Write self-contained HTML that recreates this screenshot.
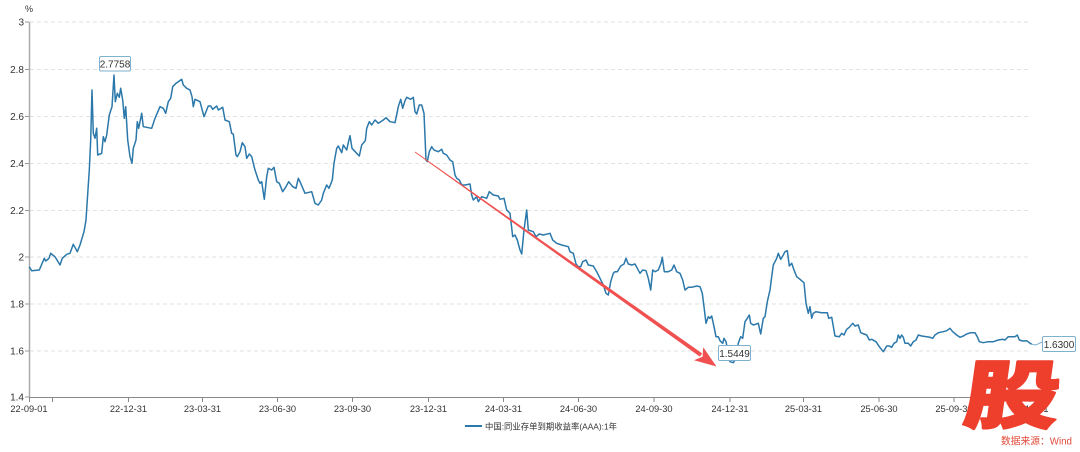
<!DOCTYPE html>
<html><head><meta charset="utf-8"><style>
html,body{margin:0;padding:0;background:#fff;}
svg{display:block;}
text{font-family:"Liberation Sans","Noto Sans CJK SC",sans-serif;}
</style></head><body>
<svg width="1080" height="452" viewBox="0 0 1080 452" xmlns="http://www.w3.org/2000/svg">
<rect width="1080" height="452" fill="#fff"/>
<!-- grid -->
<g stroke="#e2e2e2" stroke-width="1" stroke-dasharray="4 3">
<line x1="30" y1="22" x2="1031" y2="22"/>
<line x1="30" y1="69.5" x2="1031" y2="69.5"/>
<line x1="30" y1="116.5" x2="1031" y2="116.5"/>
<line x1="30" y1="163.5" x2="1031" y2="163.5"/>
<line x1="30" y1="210.5" x2="1031" y2="210.5"/>
<line x1="30" y1="257" x2="1031" y2="257"/>
<line x1="30" y1="304" x2="1031" y2="304"/>
<line x1="30" y1="351" x2="1031" y2="351"/>
</g>
<!-- y axis -->
<line x1="29.5" y1="22" x2="29.5" y2="397" stroke="#aaa" stroke-width="1.5"/>
<g stroke="#999" stroke-width="1">
<line x1="25" y1="22" x2="29" y2="22"/><line x1="25" y1="69.5" x2="29" y2="69.5"/><line x1="25" y1="116.5" x2="29" y2="116.5"/><line x1="25" y1="163.5" x2="29" y2="163.5"/><line x1="25" y1="210.5" x2="29" y2="210.5"/><line x1="25" y1="257" x2="29" y2="257"/><line x1="25" y1="304" x2="29" y2="304"/><line x1="25" y1="351" x2="29" y2="351"/><line x1="25" y1="397" x2="29" y2="397"/>
</g>
<g font-size="10" fill="#333" text-anchor="end">
<text x="24" y="25.5">3</text>
<text x="24" y="73">2.8</text>
<text x="24" y="120">2.6</text>
<text x="24" y="167">2.4</text>
<text x="24" y="214">2.2</text>
<text x="24" y="260.5">2</text>
<text x="24" y="307.5">1.8</text>
<text x="24" y="354.5">1.6</text>
<text x="24" y="400.5">1.4</text>
</g>
<text x="29" y="12" font-size="9" fill="#333" text-anchor="middle">%</text>
<!-- x axis -->
<line x1="29" y1="397.5" x2="1031" y2="397.5" stroke="#888" stroke-width="1"/>
<g stroke="#888" stroke-width="1">
<line x1="29.5" y1="397" x2="29.5" y2="402"/><line x1="52.5" y1="397" x2="52.5" y2="402"/><line x1="128.5" y1="397" x2="128.5" y2="402"/><line x1="202.5" y1="397" x2="202.5" y2="402"/><line x1="277.5" y1="397" x2="277.5" y2="402"/><line x1="352.5" y1="397" x2="352.5" y2="402"/><line x1="428.5" y1="397" x2="428.5" y2="402"/><line x1="503.5" y1="397" x2="503.5" y2="402"/><line x1="578.5" y1="397" x2="578.5" y2="402"/><line x1="654" y1="397" x2="654" y2="402"/><line x1="730" y1="397" x2="730" y2="402"/><line x1="803.5" y1="397" x2="803.5" y2="402"/><line x1="879" y1="397" x2="879" y2="402"/><line x1="954" y1="397" x2="954" y2="402"/><line x1="1030" y1="397" x2="1030" y2="402"/>
</g>
<g font-size="9.3" fill="#333" text-anchor="middle">
<text x="29" y="412">22-09-01</text>
<text x="128.5" y="412">22-12-31</text>
<text x="202.5" y="412">23-03-31</text>
<text x="277.5" y="412">23-06-30</text>
<text x="352.5" y="412">23-09-30</text>
<text x="428.5" y="412">23-12-31</text>
<text x="503.5" y="412">24-03-31</text>
<text x="578.5" y="412">24-06-30</text>
<text x="654" y="412">24-09-30</text>
<text x="730" y="412">24-12-31</text>
<text x="803.5" y="412">25-03-31</text>
<text x="879" y="412">25-06-30</text>
<text x="954" y="412">25-09-30</text>
<text x="1030" y="412">25-12-31</text>
</g>
<!-- series -->
<polyline fill="none" stroke="#2b78aa" stroke-width="1.5" stroke-linejoin="round" points="
29.3,266.7 31.7,270.7 39.3,270 40.7,266.7 44.3,258.3 45.7,261 49,258.3 50.7,253.3 52.7,255 55,256.7 60,265 62.3,258.3 66.7,254.3 70,253.3 73.3,244.3 77.3,251.7 80,245 84,231.7 86,220 87.3,200
89.3,170 90.7,140 92,90 93.3,133.3 95,138.3 96.7,128.3 97.7,155 100,154 101.7,153.3 103.3,136.7 105,141.7 106.7,135 109.3,115 112,106.7 114,75 115.3,101.7 117.3,93.3 119.3,97.3 120.7,88.3 122.7,100 124.3,118.3 125.7,106.7 127.7,140 130,156.7 132,163.3 133.3,148.3 136,140 137.3,121.7 138.7,128.3 141.7,113.3 143.3,126.7 151.7,128.3 155,118.3 160,106.7 163.3,108.3 165.7,113.3 168.3,101.7 170.7,98.3 172.7,86.7 176,83.3 178.3,81.7 181.7,79.3 183.3,85 186.7,88.3 190,90 192,96.7 193.3,106.7 195,99.3 200,101.7 204,116.7 208.3,106 210.7,106 212.7,109.3 216.7,106 218.3,110 222.7,107.3 225,120 229.3,121.7 231.7,133.3 233.3,134 236,155 237.3,156.7 240,151.7 242.3,142.7 245,146.7 246.7,158.3 249.3,154 251.7,156.7 253.3,163.3 255,170 258.3,180 260,183.3 261.7,181.7 264.3,199.3 266.7,176.7 268.3,168.3 271.7,170 274,167.3 276.7,181.7 279.3,183.3 282.7,191.7 286,186.7 288.7,181.7 292.7,186.7 296,188.3 298.3,178.3 300,181.7
305,193.3 311.7,191.7 315,203.3 318.3,205 321.7,200 323.3,193.3 326.7,185 329,188.3 332.3,180 334,163.3 336.7,148.3 338.3,146 341.7,152.7 343.3,145 346.7,150 348.3,142.7 350,135.7 352,148.3 356.7,153.3 359.3,156 361.7,145 365.3,140.7 366.7,128.3 369.3,121.7 371.7,125 375,120 378.3,123.3 383.3,120 386,117.7 390,121.7 395,122.7 397.3,111.7 398.3,106.7 400.7,99.3 402.7,108.3 405,100.7 406.7,97.3 410.7,99.3 413.3,97.3 415,111.7 416.7,114 419.3,105 421.7,105 424,113.3 426,160
427.3,161.7 429.3,151.7 431.7,146.7 434,150 438.3,151.7 441.7,149.3 443.3,153.3 446.7,155 450,160 452.7,161.7 455,175 456.7,178.3 459.3,180 461.7,185 465,185 470,184 471.7,195 473.3,200 476.7,196.7 478.3,201.7 481.7,196.7 486.7,198.3 489.3,191.7 493.3,195 498.3,196
500,199.3 504,198.3 506.7,210 510,213.3 512.7,236.7 515,235 517.3,240 520,250 521.7,254 524,230 526.7,210 528.3,230 533.3,231.7 536,236.7 539.3,234 543.3,235 550,233.3 552.7,240 556.7,243.3 561.7,245 568.3,246.7 570,251.7 573.3,253.3 576,264 578.3,266.7 580.7,266.7 582.7,261.7 586,260 588.3,265 593.3,266 596.7,271.7 600,278.3 603.3,285 606,293.3 608.3,295 610.7,281.7 613.3,273.3 615,271.7 617.3,271.7 620.7,266 624,264 626,258.3 628.3,264 631.7,265 635,264 637.3,268.3 640,273.3 642.7,270 646,270.7 648.3,278.3 650.7,290 652.7,270 655,271.7 658.3,270 661,263.3 662.3,257.3 664.3,271.7 668.3,271.7 671.7,270 674,265 676.7,271.7 680,273.3 682.7,280 685,290 688.3,287.3 691.7,287.3 696.7,286 700,286.7 702.3,293.3 704,306.7 706,323.3 708.3,316.7 710,318.3 711.7,316 714,326.7 716,336.7 718.3,336.7 720,340.7 722.7,343.3 724,338.3 726,341.7 730,361.7 733.3,362.7 736,358.3 738.3,343.3 740.7,336.7 742.7,338.3 745,321.7 747.3,318.3 749.3,315 750.7,323.3 753.3,325 758.3,323.3 760.7,334 763.3,318.3 765,316.7 767.3,301.7 770,290 771.7,276.7 773.3,265 776.7,258.3 778.3,253.3 780.7,259.3 783.3,255 785,251.7 787.3,250.7 789.3,266 791.7,263.3 794,270 796.7,276.7 800,279.3 802.7,281.7 804,282.7 806,303.3 808.3,313.3 810,306.7 811.7,318.3 813.3,313.3 816,311.7 821.7,312.7 827.3,312.7 828.7,318.3 831.7,317.3 835,336
839.3,336.7 841.7,333.3 844,335 846.7,329.3 849.3,327.3 852.7,323.3 855,326 858.3,325 860.7,332.7 864,334 866.7,335 869.3,340 871.7,339.3 876,341.7 879.3,346.7 883.3,351.7 886.7,346 889.3,346 891.7,347.3 894,343.3 896.7,341.7 898.3,335 900,338.3 901.7,335 903.3,337.3 905,343.3 908.3,343.3 910.7,346 913.3,341.7 916,340 918.3,335 921.7,336 926.7,336.7 930,337.3 932.7,338.3 935,335 938.3,332.7 943.3,331.7 946.7,330.7 950,328.3 952.7,331.7 956.7,335 960,337.3 963.3,336 966.7,334 970.7,332.7 975,332.7 977.3,336.7 979.3,341.7 983.3,342.7 988.3,341.7 993.3,341.7 998.3,340 1002.7,339.3 1005,340 1008.3,336.7 1011.7,336.7 1015,336.7 1017.3,335 1019.3,340 1022.7,341 1026.7,340.7 1029.3,342.7 1031.7,344.3"/>
<!-- red arrow -->
<polygon fill="#f0504f" points="414.77,152.33 415.23,151.67 702.16,353.37 699.84,356.63"/>
<polygon fill="#f0504f" points="716.5,366.5 693.97,360.3 702.6,356.7 703.2,347.3"/>
<!-- labels -->
<g font-size="10" fill="#333">
<rect x="99.5" y="56.5" width="31" height="14.5" rx="1.5" fill="#fff" stroke="#7fb0d0" stroke-width="1"/>
<text x="115" y="67.5" text-anchor="middle">2.7758</text>
<rect x="718.5" y="345.5" width="32" height="15" rx="1.5" fill="#fff" stroke="#7fb0d0" stroke-width="1"/>
<text x="734.5" y="357" text-anchor="middle">1.5449</text>
<polyline points="1031.7,344.3 1036,345 1042,342" fill="none" stroke="#7fb0d0" stroke-width="1"/>
<rect x="1042.5" y="336.5" width="33" height="15" rx="1.5" fill="#fff" stroke="#7fb0d0" stroke-width="1"/>
<text x="1059" y="348" text-anchor="middle">1.6300</text>
</g>
<!-- legend -->
<line x1="465" y1="426" x2="482" y2="426" stroke="#2b78aa" stroke-width="2"/>
<text x="485" y="429.5" font-size="8.6" fill="#333" textLength="132" lengthAdjust="spacingAndGlyphs">中国:同业存单到期收益率(AAA):1年</text>
<!-- watermark -->
<g transform="translate(1009,422) skewX(-8) scale(1.28,1)">
<text x="0" y="0" font-size="74" fill="#ee3e2c" stroke="#ee3e2c" stroke-width="2.2" stroke-linejoin="round" text-anchor="middle" style="font-family:'Noto Sans CJK SC','WenQuanYi Zen Hei',sans-serif;font-weight:900">股</text>
</g>
<text x="1001" y="444.5" font-size="10" fill="#e04a3a" textLength="71" lengthAdjust="spacingAndGlyphs">数据来源：Wind</text>
</svg>
</body></html>
